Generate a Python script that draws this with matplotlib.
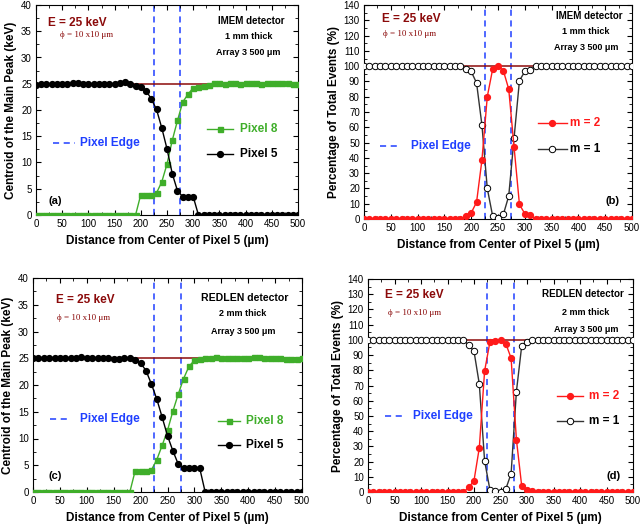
import matplotlib
matplotlib.use('Agg')
import matplotlib.pyplot as plt
from matplotlib.ticker import MultipleLocator
import numpy as np

plt.rcParams['font.family'] = ['Liberation Sans', 'DejaVu Sans']

distance = np.arange(0, 501, 10)   # um, 51 points

# (a) IMEM, centroid of main peak (keV)
imem_pix5 = [24.8, 25.0, 25.0, 25.0, 24.9, 24.9, 25.0, 25.1, 25.1, 24.9,
             24.9, 24.9, 24.9, 24.9, 24.9, 25.0, 25.2, 25.3, 25.0, 24.6,
             24.3, 23.7, 22.1, 20.1, 16.6, 12.6, 7.9, 4.6, 3.5, 3.5,
             3.5, 0, 0, 0, 0, 0, 0, 0, 0, 0,
             0, 0, 0, 0, 0, 0, 0, 0, 0, 0, 0]
imem_pix8 = [0, 0, 0, 0, 0, 0, 0, 0, 0, 0,
             0, 0, 0, 0, 0, 0, 0, 0, 0, 0,
             3.9, 3.8, 3.9, 4.2, 6.3, 9.7, 14.2, 18.0, 21.5, 23.0,
             24.2, 24.4, 24.5, 24.8, 25.1, 25.2, 25.0, 25.1, 25.2, 25.0,
             25.1, 25.1, 25.1, 25.0, 25.1, 25.1, 25.1, 25.1, 25.1, 24.9, 24.9]

# (b) IMEM, percentage of total events
imem_m2 = [0, 0, 0, 0, 0, 0, 0, 0, 0, 0,
           0, 0, 0, 0, 0, 0, 0, 0, 0, 2,
           4, 11, 38.5, 80, 98, 100, 97, 85, 47, 9.5,
           3.5, 2.5, 0, 0, 0, 0, 0, 0, 0, 0,
           0, 0, 0, 0, 0, 0, 0, 0, 0, 0, 0]
imem_m1 = [100, 100, 100, 100, 100, 100, 100, 100, 100, 100,
           100, 100, 100, 100, 100, 100, 100, 100, 100, 98,
           96.5, 89, 61.5, 20, 2, 0.5, 3, 15, 53, 90.5,
           96.5, 97.5, 100, 100, 100, 100, 100, 100, 100, 100,
           100, 100, 100, 100, 100, 100, 100, 100, 100, 100, 100]

# (c) REDLEN, centroid of main peak (keV)
redlen_pix5 = [25.1, 25.0, 25.0, 25.1, 25.1, 25.0, 25.1, 25.1, 25.1, 25.2,
               25.1, 25.1, 25.1, 25.1, 25.0, 24.9, 24.9, 25.0, 25.0, 24.7,
               24.1, 22.7, 20.2, 17.4, 14.0, 10.5, 7.7, 5.2, 4.4, 4.4,
               4.4, 4.4, 0, 0, 0, 0, 0, 0, 0, 0,
               0, 0, 0, 0, 0, 0, 0, 0, 0, 0, 0]
redlen_pix8 = [0, 0, 0, 0, 0, 0, 0, 0, 0, 0,
               0, 0, 0, 0, 0, 0, 0, 0, 0, 4.0,
               4.0, 4.0, 4.1, 6.0, 8.7, 11.5, 15.1, 18.3, 21.2, 23.5,
               24.6, 24.9, 25.0, 25.1, 25.2, 25.1, 25.0, 25.0, 25.0, 25.0,
               25.1, 25.2, 25.2, 25.1, 25.1, 25.0, 25.0, 24.8, 24.8, 24.9, 25.0]

# (d) REDLEN, percentage of total events
redlen_m2 = [0, 0, 0, 0, 0, 0, 0, 0, 0, 0,
             0, 0, 0, 0, 0, 0, 0, 0, 0, 3,
             7.5, 29, 79.5, 98.5, 99.5, 100, 97.5, 88, 34.5, 4,
             1.5, 0.5, 0, 0, 0, 0, 0, 0, 0, 0,
             0, 0, 0, 0, 0, 0, 0, 0, 0, 0, 0]
redlen_m1 = [100, 100, 100, 100, 100, 100, 100, 100, 100, 100,
             100, 100, 100, 100, 100, 100, 100, 100, 100, 96.5,
             92.5, 71, 20.5, 1.5, 0.5, 0, 2, 12, 66, 96,
             98.5, 100, 100, 100, 100, 100, 100, 100, 100, 100,
             100, 100, 100, 100, 100, 100, 100, 100, 100, 100, 100]

pixel_edges = [225, 275]
beam_energy = 25
full_pct = 100

GREEN = '#3fae2a'
RED = '#ff1a1a'
DARKRED = '#8b0a0a'
BLUE = '#1f3fff'

W, H = 640, 524
fig = plt.figure(figsize=(W / 100, H / 100), dpi=100)


def make_axes(left, top, right, bottom):
    return fig.add_axes([left / W, 1 - bottom / H, (right - left) / W, (bottom - top) / H])


def style(ax, ymax, ymaj, ymin, ylabel):
    ax.set_xlim(0, 500)
    ax.set_ylim(0, ymax)
    ax.xaxis.set_major_locator(MultipleLocator(50))
    ax.xaxis.set_minor_locator(MultipleLocator(25))
    ax.yaxis.set_major_locator(MultipleLocator(ymaj))
    ax.yaxis.set_minor_locator(MultipleLocator(ymin))
    ax.tick_params(which='both', direction='in', top=True, right=True, labelsize=7, pad=3)
    ax.tick_params(which='major', length=3.5)
    ax.tick_params(which='minor', length=2)
    ax.set_xlabel('Distance from Center of Pixel 5 (\u00b5m)', fontsize=8.5, fontweight='bold', labelpad=4)
    ax.set_ylabel(ylabel, fontsize=8.5, fontweight='bold', labelpad=3)
    for e in pixel_edges:
        ax.axvline(e, color=BLUE, ls=(0, (4, 3)), lw=1.1, zorder=1)


def texts(ax, ex, ey, px, py, tag, tx, ty):
    ax.text(ex, ey, 'E = 25 keV', transform=ax.transAxes, color=DARKRED,
            fontsize=8.5, fontweight='bold', ha='left', va='center')
    ax.text(px, py, '\u03d5 = 10 x10 \u03bcm', transform=ax.transAxes, color=DARKRED,
            fontsize=6.5, family=['Liberation Serif', 'DejaVu Serif'], ha='left', va='center')
    ax.text(tx, ty, tag, transform=ax.transAxes, fontsize=8, fontweight='bold', ha='left', va='center')


def detector(ax, det, dsize, dx, dy, thick, sx, sy, ay):
    ax.text(dx, dy, det, transform=ax.transAxes, fontsize=dsize, fontweight='bold', ha='center', va='center')
    ax.text(sx, sy, thick, transform=ax.transAxes, fontsize=6.5, fontweight='bold',
            ha='center', va='center')
    ax.text(sx, ay, 'Array 3 500 \u03bcm', transform=ax.transAxes, fontsize=6.5,
            fontweight='bold', ha='center', va='center')


def edge_key(ax, x0, x1, y, tx):
    ax.plot([x0, x1], [y, y], transform=ax.transAxes, color=BLUE, ls=(0, (4, 3)), lw=1.1)
    ax.text(tx, y, 'Pixel Edge', transform=ax.transAxes, color=BLUE, fontsize=8.5,
            fontweight='bold', ha='left', va='center')


def key(ax, x0, x1, y, tx, label, color, tcolor, **mk):
    ax.plot([x0, x1], [y, y], transform=ax.transAxes, color=color, lw=1)
    ax.plot([(x0 + x1) / 2], [y], transform=ax.transAxes, color=color, **mk)
    ax.text(tx, y, label, transform=ax.transAxes, color=tcolor, fontsize=8.5,
            fontweight='bold', ha='left', va='center')


sq = dict(marker='s', ms=3.6, mfc=GREEN, mec=GREEN)
dot = dict(marker='o', ms=4.2, mfc='black', mec='black')
rdot = dict(marker='o', ms=4.2, mfc=RED, mec=RED)
odot = dict(marker='o', ms=4.6, mfc='white', mec='black', mew=0.7)

# ---- (a)
ax = make_axes(36, 5, 298, 215)
style(ax, 40, 5, 2.5, 'Centroid of the Main Peak (keV)')
ax.axhline(beam_energy, color=DARKRED, lw=1.1, zorder=2)
ax.plot(distance, imem_pix8, color=GREEN, lw=1, zorder=3, **sq)
ax.plot(distance, imem_pix5, color='black', lw=1, zorder=4, **dot)
texts(ax, 0.045, 0.914, 0.092, 0.857, '(a)', 0.046, 0.067)
detector(ax, 'IMEM detector', 7, 0.82, 0.924, '1 mm thick', 0.81, 0.848, 0.776)
edge_key(ax, 0.065, 0.15, 0.343, 0.168)
key(ax, 0.653, 0.752, 0.41, 0.78, 'Pixel 8', GREEN, GREEN, **sq)
key(ax, 0.653, 0.752, 0.29, 0.78, 'Pixel 5', 'black', 'black', **dot)

# ---- (b)
ax = make_axes(364, 5, 632, 219)
style(ax, 140, 10, 5, 'Percentage of Total Events (%)')
ax.axhline(full_pct, color=DARKRED, lw=1.1, zorder=2)
ax.plot(distance, imem_m1, color='#333333', lw=1, zorder=3, **odot)
ax.plot(distance, imem_m2, color=RED, lw=1, zorder=4, **rdot)
texts(ax, 0.067, 0.935, 0.071, 0.864, '(b)', 0.9, 0.084)
detector(ax, 'IMEM detector', 7, 0.84, 0.949, '1 mm thick', 0.828, 0.874, 0.8)
edge_key(ax, 0.06, 0.13, 0.341, 0.175)
key(ax, 0.649, 0.757, 0.449, 0.769, 'm = 2', RED, RED, **rdot)
key(ax, 0.649, 0.757, 0.327, 0.769, 'm = 1', '#333333', 'black', **odot)

# ---- (c)
ax = make_axes(33, 278, 302, 492)
style(ax, 40, 5, 2.5, 'Centroid of the Main Peak (keV)')
ax.axhline(beam_energy, color=DARKRED, lw=1.1, zorder=2)
ax.plot(distance, redlen_pix8, color=GREEN, lw=1, zorder=3, **sq)
ax.plot(distance, redlen_pix5, color='black', lw=1, zorder=4, **dot)
texts(ax, 0.085, 0.897, 0.089, 0.813, '(c)', 0.056, 0.075)
detector(ax, 'REDLEN detector', 7.6, 0.788, 0.907, '2 mm thick', 0.78, 0.832, 0.752)
edge_key(ax, 0.063, 0.138, 0.341, 0.175)
key(ax, 0.688, 0.77, 0.332, 0.79, 'Pixel 8', GREEN, GREEN, **sq)
key(ax, 0.688, 0.77, 0.22, 0.79, 'Pixel 5', 'black', 'black', **dot)

# ---- (d)
ax = make_axes(368, 279, 633, 492)
style(ax, 140, 10, 5, 'Percentage of Total Events (%)')
ax.axhline(full_pct, color=DARKRED, lw=1.1, zorder=2)
ax.plot(distance, redlen_m1, color='#333333', lw=1, zorder=3, **odot)
ax.plot(distance, redlen_m2, color=RED, lw=1, zorder=4, **rdot)
texts(ax, 0.064, 0.925, 0.075, 0.84, '(d)', 0.9, 0.075)
detector(ax, 'REDLEN detector', 7.1, 0.811, 0.93, '2 mm thick', 0.823, 0.845, 0.765)
edge_key(ax, 0.064, 0.132, 0.357, 0.17)
key(ax, 0.713, 0.811, 0.45, 0.834, 'm = 2', RED, RED, **rdot)
key(ax, 0.713, 0.811, 0.333, 0.834, 'm = 1', '#333333', 'black', **odot)

fig.savefig('out.png', dpi=100)
